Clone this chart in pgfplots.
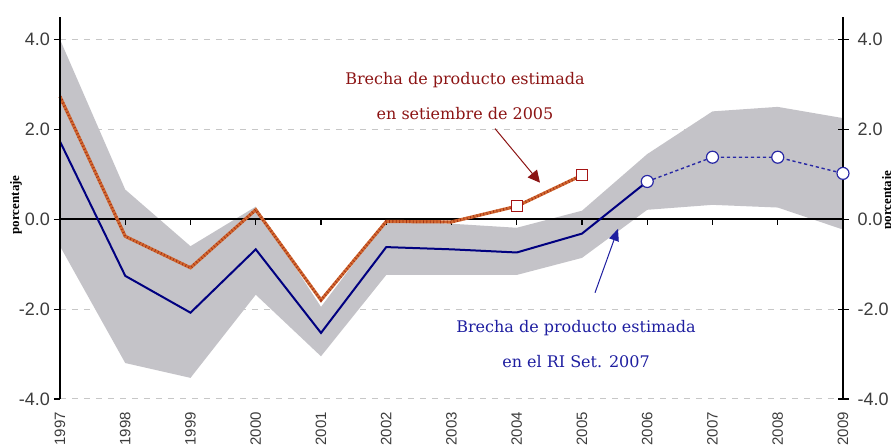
\documentclass[border=0pt]{standalone}
\usepackage{fontspec}
\setmainfont{Liberation Sans}
\newfontfamily\annofont{DejaVu Serif}
\newfontfamily\labfont{Liberation Serif}
\usepackage{pgfplots}
\pgfplotsset{compat=1.18}
\usetikzlibrary{arrows.meta}

\definecolor{band}{RGB}{196,195,200}
\definecolor{navyline}{RGB}{0,0,128}
\definecolor{projblue}{RGB}{40,40,165}
\definecolor{oldorange}{RGB}{210,105,50}
\definecolor{olddark}{RGB}{165,50,20}
\definecolor{sqred}{RGB}{165,20,20}
\definecolor{redtext}{RGB}{140,20,20}
\definecolor{bluetext}{RGB}{30,30,160}
\definecolor{ticktext}{RGB}{60,60,60}

\pgfplotsset{
  base/.style={
    width=391.5pt, height=191pt, scale only axis,
    xmin=0, xmax=12, ymin=-4, ymax=4.5,
    ytick={-4,-2,0,2,4},
    yticklabel={\pgfmathprintnumber[fixed,fixed zerofill,precision=1,assume math mode=true]{\tick}},
    yticklabel style={font=\fontsize{9}{9}\selectfont, text=ticktext},
    axis line style={line width=0.75pt},
    major tick style={line width=0.6pt, black},
    clip=false,
  }
}

\begin{document}
\begin{tikzpicture}
% left axis, grid, band and historical series
\begin{axis}[base, name=ax,
  axis y line*=left, axis x line*=bottom,
  x axis line style={draw=none},
  xtick={0,...,12},
  xticklabels={1997,1998,1999,2000,2001,2002,2003,2004,2005,2006,2007,2008,2009},
  x tick style={draw=none},
  xticklabel style={rotate=90, anchor=east, font=\fontsize{7.5}{7.5}\selectfont, text=ticktext},
  yticklabel style={xshift=1.5pt},
  tick align=outside, major tick length=3pt,
  ymajorgrids, grid style={dashed, black!22, line width=0.5pt},
]
% confidence band: upper edge, then lower edge backwards
\addplot[fill=band, draw=none] coordinates {
  (0,4.00) (1,0.66) (2,-0.60) (3,0.28) (4,-1.95) (5,-0.02) (6,-0.10)
  (7,-0.19) (8,0.19) (9,1.45) (10,2.40) (11,2.50) (12,2.25)
  (12,-0.23) (11,0.26) (10,0.32) (9,0.21) (8,-0.86) (7,-1.24) (6,-1.24)
  (5,-1.24) (4,-3.05) (3,-1.68) (2,-3.53) (1,-3.20) (0,-0.60)
} -- cycle;
% zero line and its ticks
\addplot[black, line width=0.8pt] coordinates {(0,0) (12,0)};
\addplot[black, line width=0.6pt, ycomb] coordinates {
  (1,-0.12) (2,-0.12) (3,-0.12) (4,-0.12) (5,-0.12) (6,-0.12)
  (7,-0.12) (8,-0.12) (9,-0.12) (10,-0.12) (11,-0.12)
};
% output gap estimated in September 2005
\addplot[oldorange, line width=1.6pt] coordinates {
  (0,2.73) (1,-0.38) (2,-1.08) (3,0.21) (4,-1.80) (5,-0.05) (6,-0.06) (7,0.29) (8,0.98)
};
\addplot[olddark, line width=1.4pt, dash pattern=on 0.4pt off 1.3pt] coordinates {
  (0,2.73) (1,-0.38) (2,-1.08) (3,0.21) (4,-1.80) (5,-0.05) (6,-0.06) (7,0.29) (8,0.98)
};
\addplot[only marks, mark=square*, mark size=2.8pt,
  mark options={fill=white, draw=sqred, line width=0.6pt}] coordinates {(7,0.29) (8,0.98)};
% output gap in the RI Sept. 2007
\addplot[navyline, line width=1pt] coordinates {
  (0,1.73) (1,-1.26) (2,-2.08) (3,-0.67) (4,-2.53) (5,-0.62) (6,-0.67) (7,-0.74) (8,-0.32) (9,0.84)
};
\node[rotate=90, font=\labfont\bfseries\fontsize{6.5}{6.5}\selectfont] at (axis cs:-0.674,0.32) {porcentaje};
\end{axis}

% right axis, projection and annotations
\begin{axis}[base,
  axis y line*=right, axis x line=none,
  tick align=center, major tick length=5.5pt,
  yticklabel style={xshift=1pt},
]
\draw[line width=0.75pt] (rel axis cs:0,0) -- (rel axis cs:0,1);
\addplot[projblue, line width=0.7pt, dash pattern=on 1.6pt off 1.4pt,
  mark=*, mark size=3pt, mark options={solid, fill=white, draw=projblue, line width=0.6pt}]
  coordinates {(9,0.84) (10,1.38) (11,1.38) (12,1.02)};
\node[rotate=90, font=\labfont\bfseries\fontsize{6.5}{6.5}\selectfont] at (axis cs:12.69,0.43) {porcentaje};

\node[text=redtext, font=\annofont\fontsize{8}{8}\selectfont] at (axis cs:6.207,3.09) {Brecha de producto estimada};
\node[text=redtext, font=\annofont\fontsize{8}{8}\selectfont] at (axis cs:6.207,2.35) {en setiembre de 2005};
\draw[redtext, line width=0.5pt, -{Triangle[length=6pt,width=6pt]}] (axis cs:6.667,2.016) -- (axis cs:7.356,0.813);

\node[text=bluetext, font=\annofont\fontsize{8}{8}\selectfont] at (axis cs:7.908,-2.417) {Brecha de producto estimada};
\node[text=bluetext, font=\annofont\fontsize{8}{8}\selectfont] at (axis cs:7.908,-3.167) {en el RI Set. 2007};
\draw[bluetext, line width=0.5pt, -{Triangle[length=6pt,width=5pt]}] (axis cs:8.199,-1.637) -- (axis cs:8.552,-0.212);
\end{axis}

\pgfresetboundingbox
\path[use as bounding box] ([xshift=-30pt,yshift=-24.5pt]ax.south west) rectangle ++(445.5pt,224pt);
\end{tikzpicture}
\end{document}
